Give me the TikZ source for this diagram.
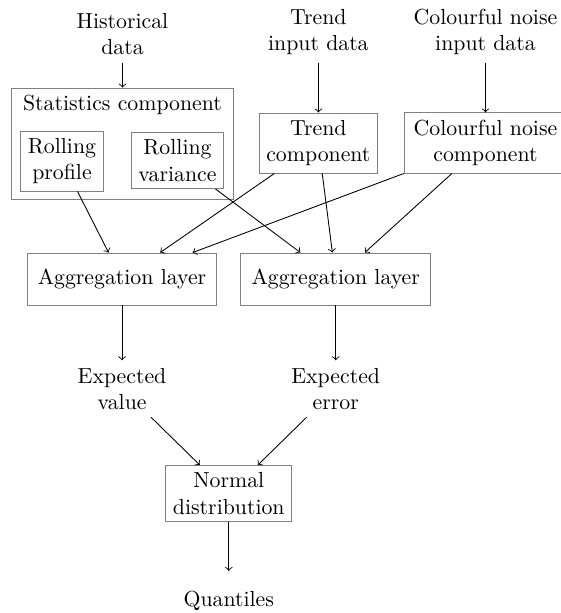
\documentclass[tikz,border=0pt]{standalone}
\usepackage{tikz}
\usetikzlibrary{positioning}

\begin{document}
\begin{tikzpicture}[
    box/.style={draw=gray, align=center},
    lbl/.style={align=center},
    agg/.style={draw=gray, align=center, minimum width=3.06cm, minimum height=0.84cm}
  ]
    \useasboundingbox (0,0) rectangle (9.048,-9.887);

    % --- Inputs ---
    \node[lbl] (hist) at (1.976,-0.55) {Historical\\data};
    \node[lbl] (trendin) at (5.135,-0.52) {Trend\\input data};
    \node[lbl] (noisein) at (7.83,-0.52) {Colourful noise\\input data};

    % --- Statistics component (with the two rolling boxes) ---
    \node[draw=gray, minimum width=3.58cm, minimum height=1.79cm] (stats) at (1.976,-2.315) {};
    \node[lbl, anchor=north] (stitle) at (stats.north) {Statistics component};
    \node[box] (rp) at (1.0,-2.597) {Rolling\\profile};
    \node[box] (rv) at (2.863,-2.589) {Rolling\\variance};

    % --- Other components ---
    \node[box] (trend) at (5.135,-2.306) {Trend\\component};
    \node[box, minimum width=2.62cm] (noise) at (7.83,-2.306) {Colourful noise\\component};

    % --- Aggregation ---
    \node[agg] (agg1) at (1.968,-4.5) {Aggregation layer};
    \node[agg] (agg2) at (5.415,-4.5) {Aggregation layer};

    % --- Outputs ---
    \node[lbl] (ev) at (1.968,-6.27) {Expected\\value};
    \node[lbl] (ee) at (5.415,-6.27) {Expected\\error};
    \node[box] (nd) at (3.69,-7.96) {Normal\\distribution};
    \node[lbl] (quant) at (3.69,-9.69) {Quantiles};

    % Arrows
    \draw[->] (hist) -- (stats);
    \draw[->] (trendin) -- (trend);
    \draw[->] (noisein) -- (noise);

    \draw[->] (rp) -- (agg1);
    \draw[->] (trend) -- (agg1);
    \draw[->] (noise) -- (agg1);

    \draw[->] (rv) -- (agg2);
    \draw[->] (trend) -- (agg2);
    \draw[->] (noise) -- (agg2);

    \draw[->] (agg1) -- (ev);
    \draw[->] (agg2) -- (ee);
    \draw[->] (ev) -- (nd);
    \draw[->] (ee) -- (nd);
    \draw[->, shorten >=0.2cm] (nd) -- (quant);

\end{tikzpicture}
\end{document}
